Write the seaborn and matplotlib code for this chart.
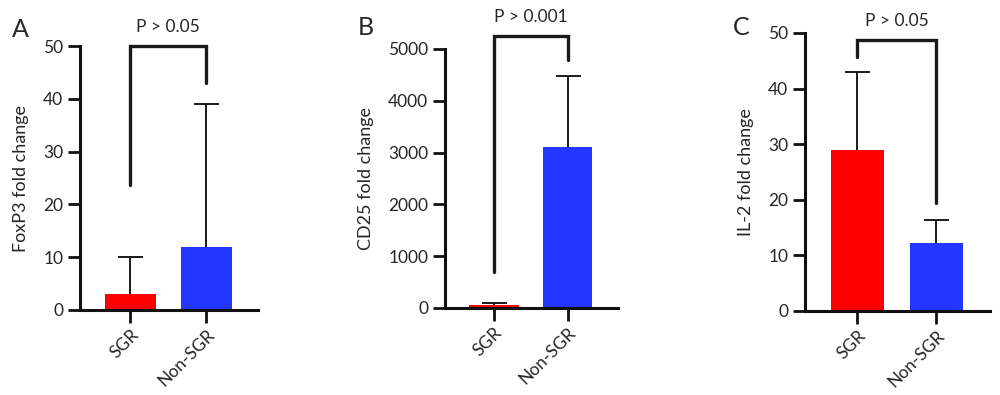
import matplotlib
matplotlib.use('Agg')
import matplotlib.pyplot as plt
import seaborn as sns
import pandas as pd

# groups shown on every panel
groups = ['SGR', 'Non-SGR']
colors = ['#ff0000', '#2236ff']

# panel A - FoxP3
foxp3_mean = [3.1, 11.9]
foxp3_sd = [7.0, 27.2]
foxp3_bracket = [23.7, 50, 43.0]   # left leg end, top, right leg end

# panel B - CD25
cd25_mean = [50, 3100]
cd25_sd = [40, 1380]
cd25_bracket = [700, 5250, 4790]

# panel C - IL-2
il2_mean = [28.9, 12.2]
il2_sd = [14.0, 4.2]
il2_bracket = [45.7, 48.7, 19.5]

sns.set_style('ticks')
plt.rcParams['font.family'] = ['Lato', 'DejaVu Sans']

fig = plt.figure(figsize=(10, 3.95), dpi=100)

panels = [
    # letter, ylabel, means, sds, bracket, p text, ymax, yticks, axes rect, letter pos
    ('A', 'FoxP3 fold change', foxp3_mean, foxp3_sd, foxp3_bracket, 'P > 0.05', 50,
     [0, 10, 20, 30, 40, 50], [0.080, 0.2152, 0.178, 0.668], (0.012, 0.925)),
    ('B', 'CD25 fold change', cd25_mean, cd25_sd, cd25_bracket, 'P > 0.001', 5000,
     [0, 1000, 2000, 3000, 4000, 5000], [0.445, 0.2203, 0.173, 0.6557], (0.358, 0.93)),
    ('C', 'IL-2 fold change', il2_mean, il2_sd, il2_bracket, 'P > 0.05', 50,
     [0, 10, 20, 30, 40, 50], [0.805, 0.2127, 0.185, 0.7038], (0.733, 0.93)),
]

for letter, ylab, means, sds, br, ptxt, ymax, yt, rect, lpos in panels:
    ax = fig.add_axes(rect)
    df = pd.DataFrame({'group': groups, 'value': means})
    sns.barplot(data=df, x='group', y='value', hue='group', palette=colors,
                order=groups, width=0.67, legend=False, ax=ax, linewidth=0,
                saturation=1)
    # upper error bars only
    eb = ax.errorbar([0, 1], means, yerr=[[0, 0], sds], fmt='none', ecolor='#1a1a1a',
                     elinewidth=1.4, capsize=9, capthick=1.4, zorder=3)
    eb.lines[1][0].set_visible(False)   # hide the lower cap
    # significance bracket
    ax.plot([0, 0, 1, 1], [br[0], br[1], br[1], br[2]], color='#1a1a1a', lw=2.4,
            clip_on=False, solid_joinstyle='miter', zorder=4)
    ax.annotate(ptxt, xy=(0.5, br[1]), xytext=(0, 8), textcoords='offset points',
                ha='center', va='bottom', fontsize=12.5, annotation_clip=False)
    fig.text(lpos[0], lpos[1], letter, fontsize=18, ha='left', va='center')

    ax.set_xlim(-0.66, 1.68)
    ax.set_ylim(0, ymax)
    ax.set_yticks(yt)
    ax.set_xlabel('')
    ax.set_ylabel(ylab, fontsize=13, labelpad=10)
    sns.despine(ax=ax)
    for s in ['left', 'bottom']:
        ax.spines[s].set_linewidth(2.2)
        ax.spines[s].set_color('#111111')
    ax.tick_params(axis='both', direction='out', length=9, width=2.0, color='#111111',
                   labelsize=12.5, pad=3)
    plt.setp(ax.get_xticklabels(), rotation=45, ha='right', rotation_mode='anchor')

fig.savefig('out.png', dpi=100)
